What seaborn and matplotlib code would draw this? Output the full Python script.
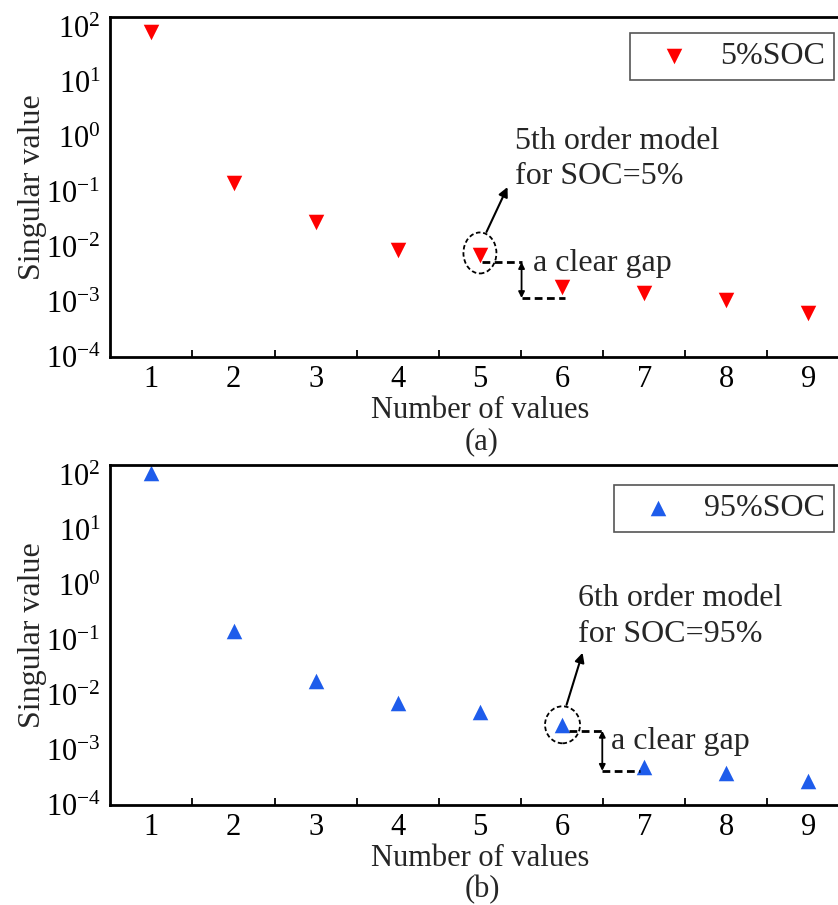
import matplotlib
matplotlib.use("Agg")
import matplotlib.pyplot as plt
import seaborn as sns
import pandas as pd
from matplotlib.patches import Ellipse
from matplotlib.transforms import ScaledTranslation

# ---- data ----
n_values = [1, 2, 3, 4, 5, 6, 7, 8, 9]
sv_5soc = [81, 0.145, 0.029, 0.0089, 0.0071, 0.0019, 0.00144, 0.0011, 0.00062]
sv_95soc = [110, 0.144, 0.0178, 0.0071, 0.0049, 0.0029, 0.0005, 0.00038, 0.000278]
label_5 = "5%SOC"
label_95 = "95%SOC"
xtick_labels = ["1", "2", "3", "4", "5", "6", "7", "8", "9"]

sns.set_theme(style="white")
plt.rcParams["font.family"] = ["Liberation Serif", "DejaVu Serif"]
plt.rcParams["mathtext.fontset"] = "stix"
FS = 23
TFS = 22

fig = plt.figure(figsize=(8.38, 9.05), dpi=100)
ax1 = fig.add_axes([0.1317, 0.6055, 0.882, 0.3757])
ax2 = fig.add_axes([0.1317, 0.1105, 0.882, 0.3754])

RED = "#FF0000"
BLUE = "#1E5CEB"

df5 = pd.DataFrame({"n": n_values, "sv": sv_5soc, "s": label_5})
df95 = pd.DataFrame({"n": n_values, "sv": sv_95soc, "s": label_95})

sns.scatterplot(data=df5, x="n", y="sv", marker="v", color=RED, s=125,
                linewidth=0, ax=ax1, label=label_5)
sns.scatterplot(data=df95, x="n", y="sv", marker="^", color=BLUE, s=125,
                linewidth=0, ax=ax2, label=label_95)


def style(ax):
    ax.set_yscale("log")
    ax.set_ylim(1e-4, 152)
    ax.set_xlim(0.5, 9.5)
    ax.set_xticks(n_values)
    ax.set_xticklabels(xtick_labels)
    ax.set_xticks([1.5 + i for i in range(9)], minor=True)
    ax.set_yticks([1e-4, 1e-3, 1e-2, 1e-1, 1, 10, 100])
    for sp in ax.spines.values():
        sp.set_linewidth(2)
        sp.set_color("black")
    ax.tick_params(which="major", direction="in", length=10, width=1.6,
                   labelsize=TFS, colors="black", pad=7)
    ax.tick_params(axis="x", which="major", pad=6)
    ax.tick_params(which="minor", direction="in", length=5, width=1.3,
                   colors="black")
    ax.tick_params(axis="x", which="minor", bottom=True)
    ax.tick_params(axis="y", which="minor", left=True)
    ax.set_xlabel("Number of values", fontsize=TFS)
    ax.set_ylabel("Singular value", fontsize=FS)
    ax.yaxis.set_label_coords(-0.086, 0.5)
    ax.xaxis.set_label_coords(0.5, -0.116)
    ax.grid(False)


style(ax1)
style(ax2)

leg_kw = dict(loc="upper right", bbox_transform=fig.transFigure,
              borderaxespad=0, fancybox=False, fontsize=FS,
              handletextpad=0.35, borderpad=0.28, handlelength=2.2,
              markerscale=1.0)
leg1 = ax1.legend(bbox_to_anchor=(834 / 838, 1 - 33 / 905), **leg_kw)
leg2 = ax2.legend(bbox_to_anchor=(834 / 838, 1 - 485 / 905), **leg_kw)
for lg in (leg1, leg2):
    fr = lg.get_frame()
    fr.set_edgecolor("#555555")
    fr.set_linewidth(1.2)
    fr.set_alpha(1)

fig.text(482 / 838, 1 - 442 / 905, "(a)", ha="center", va="center", fontsize=TFS)
fig.text(482 / 838, 1 - 890 / 905, "(b)", ha="center", va="center", fontsize=TFS)


def ellipse(ax, x, y, w_in, h_in):
    tr = fig.dpi_scale_trans + ScaledTranslation(x, y, ax.transData)
    e = Ellipse((0, 0), w_in, h_in, transform=tr, fill=False,
                edgecolor="black", linestyle=(0, (2.5, 1.5)), linewidth=1.3,
                clip_on=False)
    ax.add_patch(e)


def gap(ax, x0, x1, x2, y_hi, y_lo):
    ax.plot([x0, x1], [y_hi, y_hi], color="black", lw=2, ls=(0, (2.8, 1.6)))
    ax.plot([x1, x2], [y_lo, y_lo], color="black", lw=2, ls=(0, (2.8, 1.6)))
    ax.annotate("", xy=(x1, y_lo), xytext=(x1, y_hi),
                arrowprops=dict(arrowstyle="<|-|>", color="black", lw=1.3,
                                mutation_scale=9, shrinkA=0, shrinkB=0))


# (a) annotations
ellipse(ax1, 5.0, 0.0078, 0.33, 0.41)
ax1.annotate("", xy=(5.336, 0.123), xytext=(5.08, 0.0188),
             arrowprops=dict(arrowstyle="-|>", color="black", lw=1.5,
                             mutation_scale=14, shrinkA=0, shrinkB=0))
ax1.text(5.43, 0.40, "5th order model\nfor SOC=5%", fontsize=FS,
         ha="left", va="center", linespacing=1.3)
gap(ax1, 5.02, 5.507, 6.04, 0.00533, 0.00118)
ax1.text(5.65, 0.0051, "a clear gap", fontsize=FS, ha="left", va="center")

# (b) annotations
ellipse(ax2, 6.006, 0.00288, 0.35, 0.37)
ax2.annotate("", xy=(6.25, 0.0589), xytext=(6.055, 0.00665),
             arrowprops=dict(arrowstyle="-|>", color="black", lw=1.5,
                             mutation_scale=14, shrinkA=0, shrinkB=0))
ax2.text(6.20, 0.267, "6th order model\nfor SOC=95%", fontsize=FS,
         ha="left", va="center", linespacing=1.3)
gap(ax2, 6.09, 6.49, 6.944, 0.00224, 0.000418)
ax2.text(6.60, 0.00141, "a clear gap", fontsize=FS, ha="left", va="center")

fig.savefig("out.png", dpi=100)
